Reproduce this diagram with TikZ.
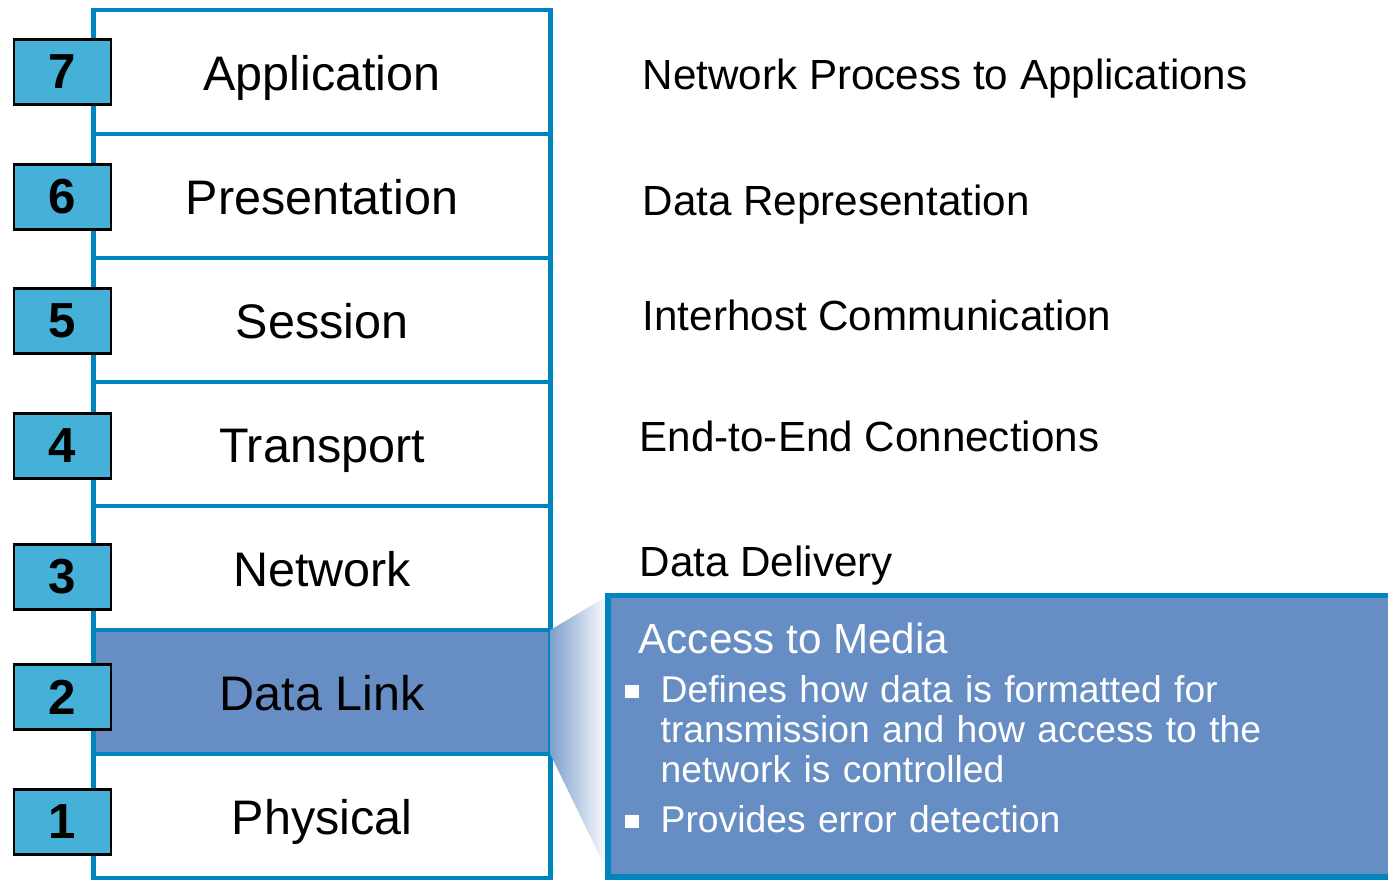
\documentclass[tikz,border=0pt]{standalone}
\usepackage{fontspec}
\setmainfont{Liberation Sans}
\usepackage{tikz}
\usetikzlibrary{positioning}
\usepackage{xcolor}
\definecolor{mborder}{HTML}{0085BF}
\definecolor{mnum}{HTML}{45B0D8}
\definecolor{mlink}{HTML}{678EC4}
\tikzstyle{layer}=[rectangle, draw=mborder, fill=white, line width=1.4pt, minimum width=4.565cm, minimum height=1.24cm, outer sep=0pt, inner sep=0pt, text height=10.6pt, text depth=0pt, font=\fontsize{13.8}{16}\selectfont]
\tikzstyle{num}=[rectangle, draw=black, fill=mnum, line width=0.85pt, minimum width=0.97cm, minimum height=0.65cm, inner sep=0pt, font=\fontsize{14}{16}\selectfont\bfseries]
\tikzstyle{desc}=[anchor=base west, inner sep=0pt, font=\fontsize{12}{14}\selectfont]
\tikzstyle{bul}=[rectangle, fill=white, minimum width=0.14cm, minimum height=0.13cm, inner sep=0pt]
\tikzstyle{btext}=[anchor=base west, inner sep=0pt, text=white, text width=7.2cm, align=left, font=\fontsize{10.6}{11.38}\selectfont]

\begin{document}
\begin{tikzpicture}
    \useasboundingbox (0,0) rectangle (13.88,-8.8);
    \clip (0,0) rectangle (13.88,-8.8);

    % the seven layers
    \node (l7) [layer] at (3.22,-0.72) {Application};
    \node (l6) [layer, below=0pt of l7] {Presentation};
    \node (l5) [layer, below=0pt of l6] {Session};
    \node (l4) [layer, below=0pt of l5] {Transport};
    \node (l3) [layer, below=0pt of l4] {Network};
    \node (l2) [layer, fill=mlink, below=0pt of l3] {Data Link};
    \node (l1) [layer, below=0pt of l2] {Physical};

    \node (n7) [num] at (0.625,-0.72) {7};
    \node (n6) [num] at (0.625,-1.97) {6};
    \node (n5) [num] at (0.625,-3.21) {5};
    \node (n4) [num] at (0.625,-4.46) {4};
    \node (n3) [num] at (0.625,-5.77) {3};
    \node (n2) [num] at (0.625,-6.97) {2};
    \node (n1) [num] at (0.625,-8.22) {1};

    \node (d7) [desc] at (6.42,-0.89) {Network Process to Applications};
    \node (d6) [desc] at (6.42,-2.15) {Data Representation};
    \node (d5) [desc] at (6.42,-3.30) {Interhost Communication};
    \node (d4) [desc] at (6.39,-4.51) {End-to-End Connections};
    \node (d3) [desc] at (6.39,-5.76) {Data Delivery};

    % zoom from Data Link to the callout
    \coordinate (cn) at (6.08,-5.955);
    \coordinate (cs) at (6.08,-8.73);
    \shade[left color=mlink!85, right color=white] (l2.north east) -- (cn) -- (cs) -- (l2.south east) -- cycle;
    \node (call) [rectangle, draw=mborder, fill=mlink, line width=1.7pt, minimum width=8.4cm, minimum height=2.815cm, anchor=north west, outer sep=0pt] at (cn) {};

    \node (t0) [desc, text=white] at (6.38,-6.53) {Access to Media};
    \node (b1) [bul] at (6.32,-6.91) {};
    \node (t1) [btext] at (6.60,-7.02) {Defines how data is formatted for\\transmission and how access to the\\network is controlled};
    \node (b2) [bul] at (6.32,-8.21) {};
    \node (t2) [btext] at (6.60,-8.32) {Provides error detection};
\end{tikzpicture}
\end{document}
